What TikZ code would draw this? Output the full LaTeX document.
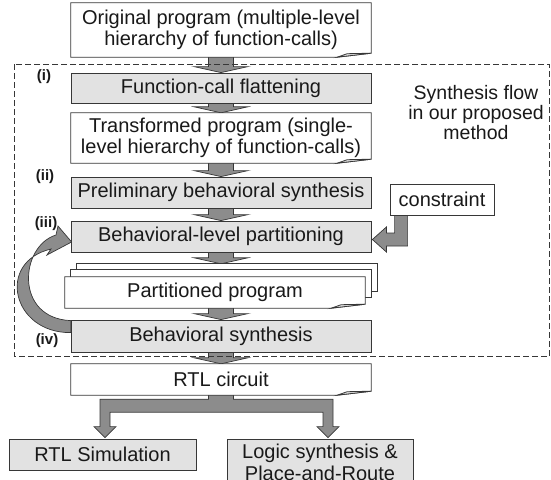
\documentclass[tikz,border=0pt]{standalone}
\usepackage{fontspec}
\setmainfont{Liberation Sans}
\usetikzlibrary{calc}
\definecolor{boxgray}{RGB}{226,226,226}
\definecolor{arrgray}{RGB}{140,140,140}
\definecolor{edge}{RGB}{55,55,55}
\pgfdeclarelayer{arrows}
\pgfdeclarelayer{docs}
\pgfsetlayers{arrows,docs,main}
\tikzset{
  every node/.style={font=\fontsize{20}{21.5}\selectfont, text=black!90},
  procbox/.style={draw=edge, fill=boxgray, line width=0.8pt, inner sep=0pt, align=center},
  plainbox/.style={draw=edge, fill=white, line width=0.8pt, inner sep=0pt, align=center},
  docnode/.style={inner sep=0pt, align=center},
  docline/.style={draw=edge, fill=white, line width=0.8pt},
  blockarrow/.style={draw=edge, fill=arrgray, line width=0.7pt, line join=miter},
  steplabel/.style={font=\fontsize{15}{17}\selectfont\bfseries},
  frame/.style={draw=edge, line width=0.9pt, dash pattern=on 6pt off 3pt},
}
\newcommand\docoutline[1]{%
  \draw[docline] (#1.north west) -- (#1.north east) -- ([yshift=4pt]#1.south east)
     -- ([xshift=-34pt]#1.south east) -- (#1.south west) -- cycle;
  \draw[docline, fill=boxgray] ([xshift=-34pt]#1.south east) -- ([xshift=-24pt,yshift=3.5pt]#1.south east)
     -- ([yshift=4pt]#1.south east) -- cycle;}
\newcommand\blockdown[2]{%
  \path[blockarrow] let \p1=(#1.south), \p2=(#2.north) in
   (208.5pt,\y1+2pt) -- (208.5pt,\y2+6pt) -- (194pt,\y2+6pt) -- (221pt,\y2) -- (248pt,\y2+6pt)
   -- (233.5pt,\y2+6pt) -- (233.5pt,\y1+2pt) -- cycle;}
\begin{document}
\begin{tikzpicture}[x=1pt,y=-1pt]
\useasboundingbox (0,0) rectangle (551,479);
\clip (0,0) rectangle (551,479);
% nodes
\node[docnode, minimum width=300pt, minimum height=54pt] (orig) at (221,30) {Original program (multiple-level\\hierarchy of function-calls)};
\node[procbox, minimum width=300pt, minimum height=30pt] (flat) at (221,88) {Function-call flattening};
\node[docnode, minimum width=300pt, minimum height=50pt] (trans) at (221,138) {Transformed program (single-\\level hierarchy of function-calls)};
\node[procbox, minimum width=300pt, minimum height=31pt] (pre) at (221,192.5) {Preliminary behavioral synthesis};
\node[plainbox, minimum width=104pt, minimum height=31pt] (con) at (442,199.5) {constraint};
\node[procbox, minimum width=300pt, minimum height=31pt] (blp) at (221,236.5) {Behavioral-level partitioning};
\node[docnode, minimum width=300pt, minimum height=27pt] (partback) at (227,277.5) {};
\node[docnode, minimum width=300pt, minimum height=27pt] (partmid) at (221,283.5) {};
\node[docnode, minimum width=300pt, minimum height=31pt] (part) at (215,292.5) {Partitioned program};
\node[procbox, minimum width=300pt, minimum height=32pt] (bs) at (221,336) {Behavioral synthesis};
\node[docnode, minimum width=300pt, minimum height=31pt] (rtl) at (221,379.5) {RTL circuit};
\node[procbox, minimum width=187pt, minimum height=31pt] (sim) at (102.5,454.5) {RTL Simulation};
\node[procbox, minimum width=186pt, minimum height=47pt] (logic) at (320,462.5) {Logic synthesis \&\\Place-and-Route};
\node[align=center, font=\fontsize{19.5}{20}\selectfont] (note) at (476,113) {Synthesis flow\\in our proposed\\method};
\node[steplabel] (li) at (44,77) {(i)};
\node[steplabel] (lii) at (45,177) {(ii)};
\node[steplabel] (liii) at (46,224) {(iii)};
\node[steplabel] (liv) at (47,341) {(iv)};
% document outlines and frame
\begin{pgfonlayer}{docs}
  \docoutline{orig}
  \docoutline{trans}
  \draw[docline] (partback.north west) rectangle (partback.south east);
  \draw[docline] (partmid.north west) rectangle (partmid.south east);
  \docoutline{part}
  \docoutline{rtl}
  \draw[frame] (14,64) rectangle (549.5,356);
\end{pgfonlayer}
% arrows
\begin{pgfonlayer}{arrows}
  \blockdown{orig}{flat}
  \blockdown{flat}{trans}
  \blockdown{trans}{pre}
  \blockdown{pre}{blp}
  \blockdown{blp}{partback}
  \blockdown{part}{bs}
  \blockdown{bs}{rtl}
  % constraint arrow
  \path[blockarrow] let \p1=(con.south west), \p2=(blp.east) in
    (\x1+5pt,\y1+2pt) -- (\x1+5pt,\y2+3.5pt) -- (\x2+15pt,\y2+3.5pt) -- (\x2+15pt,\y2+9.5pt)
    -- (\x2+1pt,\y2-3pt) -- (\x2+15pt,\y2-15.5pt) -- (\x2+15pt,\y2-9.5pt)
    -- (\x1+18pt,\y2-9.5pt) -- (\x1+18pt,\y1+2pt) -- cycle;
  % split arrow
  \path[blockarrow] let \p1=(rtl.south), \p2=(sim.north), \p3=(logic.north) in
    (\x1-12.5pt,\y1+2pt) -- (\x1-12.5pt,\y1-4pt) -- (\x2-2.5pt,\y1-4pt) -- (\x2-2.5pt,\y2+12pt)
    -- (\x2-8.5pt,\y2+12pt) -- (\x2+2.5pt,\y2+1pt) -- (\x2+13.5pt,\y2+12pt) -- (\x2+7.5pt,\y2+12pt)
    -- (\x2+7.5pt,\y1-17pt) -- (\x3+3pt,\y1-17pt) -- (\x3+3pt,\y2+12pt) -- (\x3-3pt,\y2+12pt)
    -- (\x3+8pt,\y2+1pt) -- (\x3+19pt,\y2+12pt) -- (\x3+13pt,\y2+12pt) -- (\x3+13pt,\y1-4pt)
    -- (\x1+12.5pt,\y1-4pt) -- (\x1+12.5pt,\y1+2pt) -- cycle;
  % feedback arrow
  \draw[blockarrow] ($(bs.north west)+(0,13)$) .. controls (12,333) and (-4,262) .. (51,249)
    -- (47,255) -- ($(blp.west)+(1,5.5)$) -- (58,226) -- (56,235)
    .. controls (20,246) and (14,318) .. ($(bs.north west)+(0,1)$) -- cycle;
\end{pgfonlayer}
\end{tikzpicture}
\end{document}
